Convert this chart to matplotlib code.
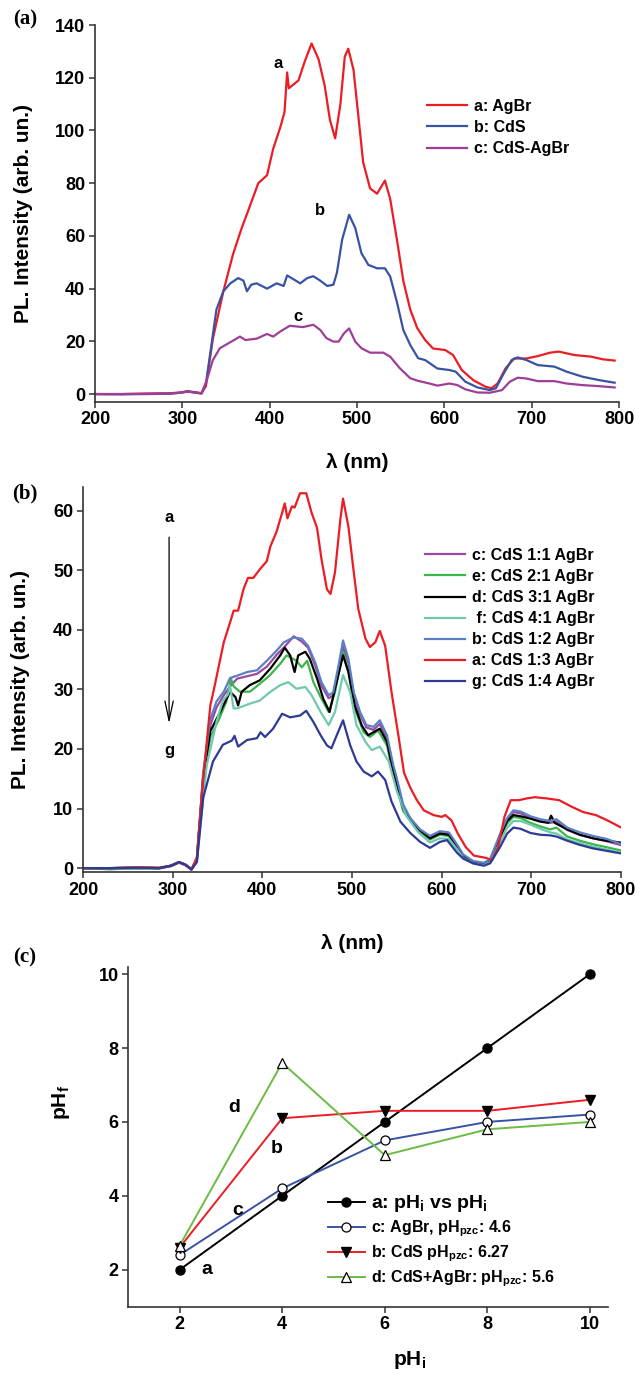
import matplotlib.pyplot as plt
import numpy as np

plt.rcParams['font.family'] = ['Liberation Sans', 'DejaVu Sans']
plt.rcParams['font.weight'] = 'bold'
plt.rcParams['axes.labelweight'] = 'bold'
plt.rcParams['mathtext.fontset'] = 'custom'
plt.rcParams['mathtext.rm'] = 'Liberation Sans:bold'
plt.rcParams['mathtext.bf'] = 'Liberation Sans:bold'
plt.rcParams['mathtext.it'] = 'Liberation Sans:bold'

# ---------------- (a) PL spectra of the single phases and the composite
wl_a_agbr = [200, 230, 260, 285, 298, 306, 314, 322, 327, 335, 347, 358, 368, 377, 387, 397, 404, 412,
             417, 420, 422, 433, 440, 448, 456, 463, 469, 475, 481, 486, 490, 496, 502, 507, 515, 523,
             532, 538, 546, 553, 561, 569, 578, 587, 601, 610, 620, 633, 647, 654, 661, 670, 680, 694,
             707, 721, 731, 749, 768, 781, 795]
pl_a_agbr = [0, 0, 0.2, 0.3, 0.6, 1.1, 0.7, 0.4, 3, 21, 39, 53, 63, 71, 80, 83, 93, 101,
             107, 122, 116, 119, 126, 133, 127, 117, 104, 97, 110, 128, 131, 123, 104, 88, 78, 76,
             81, 74, 58, 43, 32, 25, 20.5, 17.3, 16.7, 14.8, 9.1, 5.3, 2.8, 2.2, 4, 9.7, 13.5, 13.5,
             14.4, 15.7, 16.1, 14.8, 14.2, 13.2, 12.7]

wl_a_cds = [200, 230, 260, 285, 298, 306, 314, 322, 327, 332, 339, 347, 355, 364, 370, 374, 379, 385,
            397, 408, 416, 420, 427, 435, 443, 450, 458, 466, 473, 477, 483, 491, 498, 505, 513, 523,
            532, 538, 546, 553, 561, 570, 578, 592, 606, 613, 624, 638, 652, 659, 668, 677, 684, 694,
            707, 726, 740, 758, 777, 795]
pl_a_cds = [0, -0.1, 0, 0.1, 0.5, 1.0, 0.6, 0.2, 4, 15.5, 32, 39, 42, 44, 43, 39, 41.5, 42,
            40, 42, 41, 45, 43.6, 42, 44, 44.7, 43, 41, 41.5, 46, 58.6, 68, 63, 53.5, 49, 47.7,
            47.7, 44.6, 34.5, 24.3, 18.6, 13.6, 12.9, 9.7, 9.1, 8.5, 4.7, 2.5, 1.5, 2.2, 7.8, 12.9,
            13.9, 12.9, 11, 10.4, 8.5, 6.6, 5.3, 4.3]

wl_a_mix = [200, 230, 260, 285, 298, 306, 314, 322, 328, 335, 343, 353, 366, 372, 385, 397, 404, 412,
            423, 438, 450, 458, 465, 473, 479, 485, 491, 498, 505, 515, 530, 538, 549, 561, 570, 583,
            592, 606, 615, 624, 638, 652, 666, 675, 684, 694, 707, 726, 740, 758, 777, 795]
pl_a_mix = [0, 0, 0.1, 0.2, 0.5, 0.9, 0.6, 0.2, 5.3, 12.9, 17.4, 19.3, 21.8, 20.5, 21, 22.8, 21.8,
            23.7, 25.9, 25.4, 26.3, 24.3, 21.2, 19.9, 19.9, 23, 24.9, 19.9, 17.4, 15.7, 15.7, 14.2,
            9.8, 6, 5, 4, 3.2, 4, 3.4, 1.8, 0.6, 0.5, 1.5, 4.7, 6.2, 5.9, 4.9, 4.9, 4, 3.4, 3, 2.5]

# ---------------- (b) PL spectra for different CdS:AgBr ratios
wl_b_13 = [200, 230, 260, 285, 298, 307, 314, 321, 327, 334, 342, 347, 357, 364, 368, 373, 379, 384,
           390, 397, 405, 409, 416, 422, 425, 428, 433, 436, 442, 449, 455, 461, 466, 472, 476, 481,
           487, 490, 496, 502, 507, 515, 520, 526, 531, 537, 544, 552, 558, 565, 572, 580, 591, 600,
           604, 611, 618, 627, 636, 650, 656, 663, 670, 677, 686, 695, 704, 717, 731, 745, 758, 772,
           785, 799]
pl_b_13 = [0, 0, 0.1, 0.1, 0.4, 1.0, 0.6, -0.2, 1.8, 15, 27.3, 30.7, 37.9, 41.2, 43.2, 43.2, 46.8,
           48.7, 48.7, 50.1, 51.5, 54, 56.5, 59.6, 61.2, 58.7, 60.7, 60.5, 62.9, 62.9, 59.6, 57.1,
           51.8, 46.8, 46, 49.6, 58.5, 62, 57.3, 49.6, 43.5, 38.5, 37.1, 37.9, 39.8, 37.3, 29.6, 22,
           16, 13.5, 11.5, 9.7, 8.9, 8.6, 8.9, 8, 5.8, 3.5, 2.1, 1.7, 1.3, 3.5, 8.6, 11.4, 11.4,
           11.7, 11.9, 11.7, 11.4, 10.3, 9.4, 8.9, 8, 6.9]

wl_b_12 = [200, 230, 260, 285, 298, 307, 314, 321, 327, 334, 342, 349, 357, 364, 372, 383, 394, 405,
           416, 424, 435, 444, 451, 459, 466, 474, 479, 485, 490, 496, 502, 509, 516, 524, 531, 539,
           546, 550, 557, 565, 576, 587, 598, 608, 617, 624, 635, 647, 654, 665, 673, 680, 688, 699,
           710, 721, 728, 740, 754, 769, 784, 799]
pl_b_12 = [0, 0, 0.1, 0, 0.4, 1.0, 0.6, -0.2, 1.5, 16, 25, 28, 29.6, 31.9, 32.3, 32.9, 33.2, 34.8,
           36.5, 37.9, 38.7, 38.5, 37.3, 34.5, 31.2, 29, 29.5, 34, 38.2, 35.1, 29.5, 26.2, 24, 23.7,
           24.8, 22.3, 17.3, 15.1, 10.7, 8.4, 6.5, 5.4, 6.2, 6, 4, 2.3, 1.2, 0.9, 1.5, 5.7, 8.4, 9.7,
           9.5, 8.7, 8.2, 7.9, 8.2, 6.8, 6, 5.4, 4.9, 4.1]
pl_b_11 = [0, 0, 0.1, 0, 0.3, 0.9, 0.5, -0.3, 1.4, 15.5, 24, 27, 29, 30.5, 31.8, 32.2, 32.6, 33.8,
           35.8, 37, 38.9, 38, 37, 34, 30.6, 28.5, 29, 33, 37.2, 34.4, 29, 25.8, 23.6, 23.2, 24.2,
           21.8, 16.8, 14.6, 10.4, 8.2, 6.3, 5.2, 6, 5.8, 3.8, 2.1, 1.0, 0.7, 1.3, 5.4, 8.1, 9.4,
           9.2, 8.4, 7.9, 7.6, 7.8, 6.4, 5.6, 5.0, 4.5, 3.9]

wl_b_31 = [200, 230, 260, 285, 298, 307, 314, 321, 327, 334, 342, 353, 364, 370, 373, 377, 386, 397,
           409, 420, 425, 431, 436, 440, 448, 453, 461, 468, 475, 481, 490, 496, 503, 511, 518, 524,
           531, 539, 546, 557, 572, 587, 598, 608, 617, 624, 635, 647, 654, 665, 673, 680, 688, 699,
           710, 719, 722, 726, 740, 754, 769, 784, 799]
pl_b_31 = [0, 0, 0.1, 0, 0.4, 1.0, 0.6, -0.2, 1.4, 15, 23, 26.2, 29.6, 28.7, 27.3, 29.6, 30.7, 31.5,
           33.5, 35.7, 37, 35.7, 32.9, 35.7, 36.3, 35.1, 31.8, 28.4, 26.2, 30.1, 35.7, 32.9, 27.3,
           23.9, 22.3, 22.8, 23.4, 21.2, 16.2, 10.1, 6.8, 5.0, 5.8, 5.6, 3.7, 2.0, 1.0, 0.7, 1.3, 5.2,
           7.9, 8.9, 8.7, 8.3, 7.8, 7.6, 8.8, 7.6, 6.5, 5.6, 5.0, 4.6, 4.3]

wl_b_21 = [200, 230, 260, 285, 298, 307, 314, 321, 327, 334, 342, 352, 360, 365, 368, 375, 386, 397,
           408, 420, 427, 438, 444, 450, 457, 464, 474, 481, 490, 496, 503, 513, 520, 529, 539, 546,
           557, 572, 587, 598, 608, 617, 624, 635, 647, 654, 665, 673, 680, 688, 699, 710, 721, 728,
           740, 754, 769, 784, 799]
pl_b_21 = [0, -0.2, 0, -0.1, 0.4, 1.0, 0.6, -0.2, 1.4, 14, 22, 25.1, 28, 31.8, 30.5, 29.6, 29.6,
           30.9, 32.3, 34.3, 35.7, 34.8, 33.7, 34.8, 31.2, 29, 26.2, 29.5, 36.3, 32.9, 26.8, 22.8, 22,
           23.1, 20.6, 15.7, 9.6, 6.5, 4.8, 5.6, 5.4, 3.5, 1.9, 0.9, 0.6, 1.2, 4.9, 7.5, 8.6, 8.4,
           7.6, 7.0, 6.5, 6.8, 5.3, 4.6, 4.0, 3.5, 3.0]

wl_b_41 = [200, 230, 260, 285, 298, 307, 314, 321, 327, 338, 349, 356, 362, 364, 368, 372, 386, 397,
           409, 420, 429, 438, 448, 455, 465, 474, 481, 490, 498, 505, 515, 522, 531, 541, 550, 561,
           574, 587, 598, 608, 617, 624, 635, 647, 654, 665, 673, 680, 688, 699, 710, 721, 728, 740,
           754, 769, 784, 799]
pl_b_41 = [0, 0, -0.1, 0, 0.4, 1.0, 0.6, -0.2, 1.2, 17.3, 24.6, 28.1, 29.2, 30.6, 26.8, 26.8, 27.6,
           28.1, 29.6, 30.7, 31.2, 30.1, 30.4, 29, 26.2, 24, 26.2, 32.4, 29.5, 24, 21.2, 19.8, 20.4,
           17.9, 12.9, 8.7, 6.0, 4.3, 5.0, 4.9, 3.2, 1.7, 0.8, 0.5, 1.0, 4.3, 6.8, 7.9, 7.9, 7.3,
           6.6, 6.0, 5.8, 4.8, 4.2, 3.6, 3.1, 2.6]

wl_b_14 = [200, 230, 260, 285, 298, 307, 314, 321, 327, 334, 345, 356, 366, 369, 373, 383, 394, 398,
           403, 412, 422, 431, 442, 449, 457, 465, 472, 477, 483, 490, 498, 505, 513, 522, 529, 537,
           544, 554, 565, 576, 587, 598, 606, 617, 624, 635, 647, 654, 665, 673, 680, 688, 699, 710,
           721, 728, 740, 754, 769, 784, 799]
pl_b_14 = [0, 0, 0, 0, 0.4, 1.0, 0.6, -0.2, 1.0, 11.8, 17.9, 20.7, 21.4, 22.2, 20.4, 21.5, 21.8,
           22.8, 22, 23.4, 25.9, 25.3, 25.6, 26.4, 24.5, 22.3, 20.6, 20.1, 22.3, 24.8, 20.6, 17.9,
           16.2, 15.4, 16.2, 14.8, 11.2, 7.8, 5.9, 4.4, 3.4, 4.4, 4.7, 2.6, 1.6, 0.8, 0.4, 0.8, 3.5,
           5.8, 6.8, 6.6, 5.9, 5.6, 5.5, 5.3, 4.6, 3.9, 3.3, 2.9, 2.5]

# ---------------- (c) final pH against initial pH
ph_i = [2, 4, 6, 8, 10]
ph_ref = [2, 4, 6, 8, 10]
ph_agbr = [2.4, 4.2, 5.5, 6.0, 6.2]
ph_cds = [2.6, 6.1, 6.3, 6.3, 6.6]
ph_mix = [2.65, 7.6, 5.1, 5.8, 6.0]

W, H = 635, 1374
fig = plt.figure(figsize=(W / 100, H / 100), dpi=100)

AX_COL = '#333333'
RED = '#ec1c24'
BLUE = '#3953a4'


def box(l, t, r, b):
    return [l / W, 1 - b / H, (r - l) / W, (b - t) / H]


def style_axes(ax):
    for side in ('top', 'right'):
        ax.spines[side].set_visible(False)
    for side in ('left', 'bottom'):
        ax.spines[side].set_linewidth(1.2)
        ax.spines[side].set_color(AX_COL)
    ax.tick_params(direction='out', length=4, width=1.1, color=AX_COL, labelsize=13, pad=3)


# ---- panel (a)
ax1 = fig.add_axes(box(95, 25, 619, 401.7))
ax1.plot(wl_a_agbr, pl_a_agbr, color=RED, lw=1.6, label='a: AgBr')
ax1.plot(wl_a_cds, pl_a_cds, color=BLUE, lw=1.6, label='b: CdS')
ax1.plot(wl_a_mix, pl_a_mix, color='#9d3f98', lw=1.6, label='c: CdS-AgBr')
ax1.set_xlim(200, 800)
ax1.set_ylim(-2.9, 140)
ax1.set_xticks(np.arange(200, 801, 100))
ax1.set_yticks(np.arange(0, 141, 20))
style_axes(ax1)
ax1.set_ylabel('PL. Intensity (arb. un.)', fontsize=15)
ax1.yaxis.set_label_coords(-0.118, 0.5)
ax1.set_xlabel('λ (nm)', fontsize=15)
ax1.xaxis.set_label_coords(0.5, -0.135)
ax1.text(410, 125.5, 'a', fontsize=12, ha='center', va='center')
ax1.text(458, 69.6, 'b', fontsize=12, ha='center', va='center')
ax1.text(433, 29.4, 'c', fontsize=12, ha='center', va='center')
ax1.legend(loc='upper left', bbox_to_anchor=(427 / W, 1 - 99 / H), bbox_transform=fig.transFigure,
           frameon=False, fontsize=11.5, handlelength=2.5, handletextpad=0.45, labelspacing=0.38,
           borderpad=0, borderaxespad=0)

# ---- panel (b)
ax2 = fig.add_axes(box(83, 486.7, 621, 872.3))
ax2.plot(wl_b_12, pl_b_11, color='#9b4a9f', lw=1.6, label='c: CdS 1:1 AgBr')
ax2.plot(wl_b_21, pl_b_21, color='#3cb54a', lw=1.6, label='e: CdS 2:1 AgBr')
ax2.plot(wl_b_31, pl_b_31, color='black', lw=1.6, label='d: CdS 3:1 AgBr')
ax2.plot(wl_b_41, pl_b_41, color='#6fc9ad', lw=1.6, label=' f: CdS 4:1 AgBr')
ax2.plot(wl_b_12, pl_b_12, color='#5b7fc4', lw=1.6, label='b: CdS 1:2 AgBr')
ax2.plot(wl_b_13, pl_b_13, color=RED, lw=1.6, label='a: CdS 1:3 AgBr')
ax2.plot(wl_b_14, pl_b_14, color='#2e3a94', lw=1.6, label='g: CdS 1:4 AgBr')
ax2.set_xlim(200, 800)
ax2.set_ylim(-0.7, 64)
ax2.set_xticks(np.arange(200, 801, 100))
ax2.set_yticks(np.arange(0, 61, 10))
style_axes(ax2)
ax2.set_ylabel('PL. Intensity (arb. un.)', fontsize=15)
ax2.yaxis.set_label_coords(-0.098, 0.5)
ax2.set_xlabel('λ (nm)', fontsize=15)
ax2.xaxis.set_label_coords(0.5, -0.16)
ax2.annotate('', xy=(296, 23.8), xytext=(296, 56),
             arrowprops=dict(arrowstyle='->, head_length=1.4, head_width=0.3', lw=0.9, color='black'))
ax2.text(296, 58.8, 'a', fontsize=12, ha='center', va='center')
ax2.text(296, 19.8, 'g', fontsize=12, ha='center', va='center')
ax2.legend(loc='upper left', bbox_to_anchor=(425 / W, 1 - 548 / H), bbox_transform=fig.transFigure,
           frameon=False, fontsize=11.5, handlelength=2.5, handletextpad=0.45, labelspacing=0.38,
           borderpad=0, borderaxespad=0)

# ---- panel (c)
ax3 = fig.add_axes(box(128.3, 966.7, 608.5, 1306.7))
ax3.plot(ph_i, ph_ref, color='black', lw=1.4, marker='o', ms=6.5, mfc='black', mec='black',
         label=r'a: pH$_\mathregular{i}$ vs pH$_\mathregular{i}$')
ax3.plot(ph_i, ph_agbr, color=BLUE, lw=1.4, marker='o', ms=6.5, mfc='white', mec='black', mew=0.9,
         label=r'c: AgBr, pH$_\mathregular{pzc}$: 4.6')
ax3.plot(ph_i, ph_cds, color=RED, lw=1.4, marker='v', ms=7, mfc='black', mec='black',
         label=r'b: CdS pH$_\mathregular{pzc}$: 6.27')
ax3.plot(ph_i, ph_mix, color='#6cbb45', lw=1.4, marker='^', ms=7, mfc='white', mec='black', mew=0.9,
         label=r'd: CdS+AgBr: pH$_\mathregular{pzc}$: 5.6')
ax3.set_xlim(1, 10.36)
ax3.set_ylim(1, 10.2)
ax3.set_xticks(np.arange(2, 11, 2))
ax3.set_yticks(np.arange(2, 11, 2))
style_axes(ax3)
ax3.set_ylabel(r'pH$_\mathregular{f}$', fontsize=15)
ax3.yaxis.set_label_coords(-0.118, 0.6)
ax3.set_xlabel(r'pH$_\mathregular{i}$', fontsize=15)
ax3.xaxis.set_label_coords(0.585, -0.125)
ax3.text(3.06, 6.4, 'd', fontsize=14, ha='center', va='center')
ax3.text(3.89, 5.28, 'b', fontsize=14, ha='center', va='center')
ax3.text(3.13, 3.6, 'c', fontsize=14, ha='center', va='center')
ax3.text(2.54, 2.0, 'a', fontsize=14, ha='center', va='center')
leg3 = ax3.legend(loc='upper left', bbox_to_anchor=(328 / W, 1 - 1193 / H), bbox_transform=fig.transFigure,
                  frameon=False, fontsize=11.5, handlelength=2.3, handletextpad=0.4, labelspacing=0.28,
                  borderpad=0, borderaxespad=0)
leg3.get_texts()[0].set_fontsize(14)

# panel letters
for label, ypx in (('(a)', 19), ('(b)', 493), ('(c)', 957)):
    fig.text(25 / W, 1 - ypx / H, label, family='Liberation Serif', weight='bold', fontsize=15,
             ha='center', va='center')

fig.savefig('out.png', dpi=100)
